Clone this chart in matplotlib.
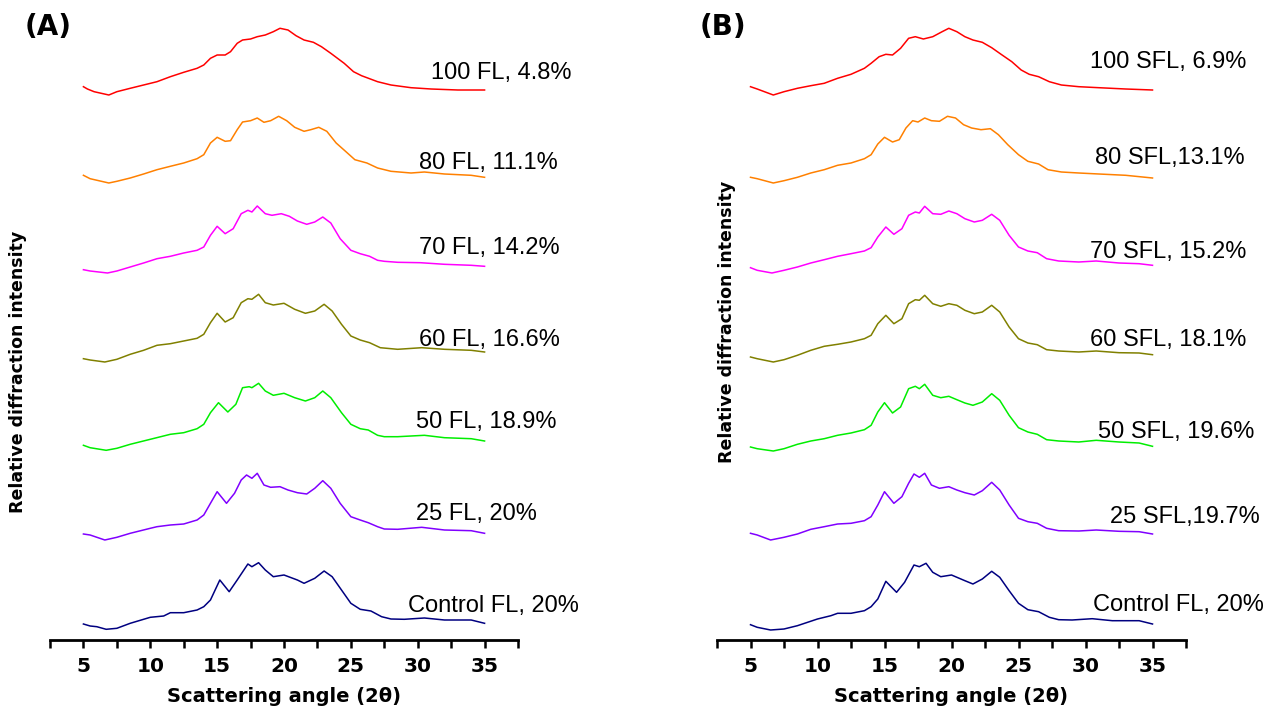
import numpy as np
import matplotlib
matplotlib.use("Agg")
import matplotlib.pyplot as plt
from matplotlib.ticker import MultipleLocator

# (2theta, relative intensity), panel A
fl_control = [(5, 6), (5.5, 4), (6, 3.3), (6.7, 0.7), (7.5, 1.7), (8.5, 6.7), (10, 12.7), (11, 14),
              (11.5, 17.3), (12.5, 17.3), (13.5, 20), (14, 23.3), (14.5, 30), (15.2, 50), (15.9, 38.3),
              (16.5, 50), (17.3, 66), (17.6, 63.3), (18.1, 67.3), (18.6, 60), (19.2, 53.3), (20, 55),
              (21, 50), (21.5, 46.7), (22.3, 51.7), (23, 59), (23.6, 53.3), (24.3, 40), (25, 26.7),
              (25.7, 20.7), (26.5, 19), (27.3, 13.3), (28, 11), (29, 10.7), (30.5, 12), (32, 10),
              (34, 10), (35, 6.7)]
fl_25 = [(5, 6), (5.5, 5), (6.6, 0), (7.5, 2.7), (8.5, 6.7), (10, 11.7), (10.5, 13.3), (11.5, 15),
         (12.5, 16), (13.5, 20), (14, 25), (14.5, 36.7), (15, 48.3), (15.7, 36.7), (16.3, 46.7),
         (16.8, 60), (17.2, 65), (17.6, 61.7), (18, 66.7), (18.5, 55), (19, 52.7), (19.7, 53.3),
         (20.3, 50), (21, 47.3), (21.7, 46), (22.3, 51.7), (22.9, 59.3), (23.5, 51.7), (24.2, 36.7),
         (25, 23.3), (25.7, 20), (26.3, 17.3), (27, 13.3), (27.5, 11), (28.5, 10.7), (30.3, 12.7),
         (32, 10), (34, 9.3), (35, 6.7)]
fl_50 = [(5, 5.7), (5.5, 3.3), (6.7, 0.7), (7.5, 2.7), (8.5, 6.7), (10, 11.7), (11.5, 16.7),
         (12.5, 18.3), (13.5, 22.3), (14, 26.7), (14.5, 38.3), (15.1, 48.3), (15.8, 39), (16.4, 46.7),
         (16.9, 63.3), (17.4, 64.3), (17.6, 63.3), (18.1, 67.7), (18.6, 60), (19.2, 55.7), (20, 57.7),
         (20.8, 53.3), (21.6, 50), (22.3, 53.3), (22.9, 60), (23.5, 53.3), (24.3, 38.3), (25, 26.7),
         (25.7, 22.3), (26.3, 21), (27, 15.7), (27.5, 14.3), (28.5, 14.3), (30.5, 15.7), (32, 13.3),
         (34, 12.3), (35, 10)]
fl_60 = [(5, 3.3), (5.5, 2), (6.6, 0), (7.5, 2.7), (8.5, 7.7), (9.5, 11.7), (10.5, 16.7), (11.5, 18.3),
         (12.5, 21), (13.5, 23.7), (14, 27.7), (14.5, 39.3), (15, 48.7), (15.6, 40), (16.2, 44.3),
         (16.8, 59.3), (17.3, 63.3), (17.6, 62.7), (18.1, 67.7), (18.6, 59.3), (19.2, 57), (20, 58.7),
         (20.8, 52.7), (21.6, 48.7), (22.3, 51), (23, 57.7), (23.6, 51), (24.3, 37.7), (25, 26),
         (25.7, 22), (26.4, 19.3), (27.2, 14.3), (28.5, 12.7), (30.3, 14.3), (32, 12.7), (34, 11.7),
         (35, 10)]
fl_70 = [(5, 3.3), (5.5, 2), (6.8, 0), (7.5, 2), (8.5, 6), (9.5, 10), (10.5, 14.3), (11.5, 16.7),
         (12.5, 20), (13.5, 22.7), (14, 26), (14.5, 37.7), (15, 46.7), (15.6, 39.3), (16.2, 44.3),
         (16.8, 59.3), (17.3, 62.7), (17.6, 61), (18, 67), (18.6, 59.3), (19.1, 57.7), (19.8, 59.3),
         (20.4, 56.7), (21, 52), (21.7, 48.7), (22.3, 51), (22.9, 56), (23.5, 50), (24.2, 34.3),
         (25, 22.7), (25.7, 19.3), (26.4, 16.7), (27, 12.7), (27.5, 11.7), (28.5, 10.7), (30.2, 10.3),
         (32, 8.7), (34, 7.7), (35, 6.7)]
fl_80 = [(5, 7.7), (5.5, 4.3), (6.9, 0), (7.5, 1.7), (8.5, 5), (9.5, 9), (10.5, 13.3), (11.5, 16.7),
         (12.5, 20), (13.5, 24.3), (14, 28.3), (14.5, 40), (15, 45.7), (15.6, 41.7), (16, 42.3),
         (16.5, 53.3), (16.9, 61), (17.5, 62.3), (18, 65), (18.5, 60.7), (19, 62.3), (19.6, 66.7),
         (20.2, 62.3), (20.8, 55.7), (21.5, 51.7), (22, 53.3), (22.6, 55.7), (23.2, 51.7), (23.9, 40),
         (24.6, 31.7), (25.3, 23.3), (26.2, 20), (27, 15), (28, 11.7), (29.5, 10), (30.5, 11),
         (32, 9), (34, 7.7), (35, 5.7)]
fl_100 = [(5, 8.3), (5.3, 6), (5.8, 3.3), (6.9, 0), (7.5, 3.3), (8.5, 6.7), (9.5, 10), (10.5, 13.3),
          (11.5, 18.3), (12.5, 22.7), (13.5, 26.7), (14, 30), (14.5, 36.7), (15, 40), (15.6, 40),
          (16, 43.3), (16.5, 51.7), (16.9, 55), (17.5, 56), (18, 58.3), (18.6, 60), (19.2, 63.3),
          (19.7, 66.7), (20.3, 65), (20.9, 59.3), (21.5, 55), (22.2, 52.7), (22.8, 48.3), (23.5, 41.7),
          (24.5, 31.7), (25.2, 23.3), (25.8, 19.3), (27, 13.3), (28, 10), (29.5, 7.3), (31, 6),
          (33, 5), (35, 5)]

# panel B
sfl_control = [(5, 5.3), (5.5, 2.7), (6.5, 0), (7.5, 1), (8.5, 4.3), (10, 11), (11, 14.3), (11.5, 16.7),
               (12.5, 16.7), (13.5, 19.3), (14, 23.3), (14.5, 31), (15.1, 48.7), (15.9, 37.7),
               (16.5, 47.7), (17.2, 65), (17.6, 63.3), (18.1, 66.7), (18.6, 57.7), (19.2, 53.3), (20, 55),
               (21, 49.3), (21.6, 46), (22.3, 51), (23, 58.7), (23.6, 52.7), (24.3, 39.3), (25, 26.7),
               (25.7, 20.3), (26.5, 18.3), (27.3, 12.7), (28, 10.3), (29, 10), (30.5, 11.3), (32, 9.3),
               (34, 9.3), (35, 6)]
sfl_25 = [(5, 6.7), (5.5, 5), (6.5, 0), (7.5, 2.7), (8.5, 6), (9.5, 10.7), (10.5, 13.3), (11.5, 16),
          (12.5, 16.7), (13.5, 19.3), (14, 23.3), (14.5, 35), (15, 48.3), (15.7, 36.7), (16.3, 43.3),
          (16.8, 56.7), (17.2, 66), (17.6, 62.7), (18, 66.7), (18.5, 55), (19.1, 51.7), (19.8, 53.3),
          (20.4, 50), (21, 47.3), (21.7, 45), (22.3, 49.3), (23, 57.7), (23.6, 50), (24.3, 35),
          (25, 21.7), (25.7, 18.3), (26.4, 16.7), (27.1, 11.7), (28, 9.3), (29.5, 9), (30.8, 10),
          (32.5, 8.7), (34, 8.3), (35, 6)]
sfl_50 = [(5, 4), (5.5, 2.3), (6.7, 0), (7.5, 2.3), (8.5, 6.7), (9.5, 10), (10.5, 12.3), (11.5, 15.7),
          (12.5, 18), (13.5, 21.3), (14, 25.7), (14.5, 39), (15, 48.3), (15.6, 38), (16.2, 44),
          (16.8, 62.3), (17.3, 64.7), (17.6, 62.3), (18, 66.7), (18.6, 55.7), (19.2, 53.3), (19.8, 54.7),
          (20.4, 51.3), (21, 48), (21.6, 45.7), (22.3, 49), (23, 57.3), (23.6, 50.7), (24.3, 35.7),
          (25, 23.3), (25.7, 19), (26.4, 16.7), (27.1, 11.3), (28, 10), (29.5, 9), (30.8, 10.7),
          (32.5, 9), (34, 8), (35, 4.7)]
sfl_60 = [(5, 5), (5.5, 3.3), (6.7, 0), (7.5, 2.3), (8.5, 6.7), (9.5, 11.7), (10.5, 15.7), (11.5, 17.7),
          (12.5, 20), (13.5, 23.3), (14, 26.7), (14.5, 38.3), (15.1, 46.7), (15.7, 38.3), (16.3, 43.3),
          (16.8, 58.3), (17.3, 62.3), (17.6, 61.7), (18, 66.7), (18.6, 58.3), (19.2, 55.7), (19.8, 58.3),
          (20.4, 56.7), (21, 51.7), (21.7, 48.3), (22.3, 50), (23, 56.7), (23.6, 50), (24.3, 35),
          (25, 23.3), (25.7, 19), (26.4, 17.3), (27.1, 12.3), (28, 11), (29.5, 10), (30.8, 11),
          (32.5, 9.3), (34, 9), (35, 7.3)]
sfl_70 = [(5, 5.3), (5.5, 2.7), (6.6, 0), (7.5, 2.7), (8.5, 6), (9.5, 10), (10.5, 13.3), (11.5, 16.7),
          (12.5, 19.3), (13.5, 22), (14, 25.3), (14.5, 36), (15.1, 46), (15.7, 38.7), (16.3, 44.3),
          (16.8, 57.7), (17.3, 61), (17.6, 60), (18, 66.7), (18.6, 59.3), (19.2, 58.7), (19.8, 62),
          (20.4, 59.3), (21, 54.3), (21.7, 51), (22.3, 52.7), (23, 58.7), (23.6, 52.7), (24.3, 37.7),
          (25, 26), (25.7, 22), (26.4, 20.3), (27.1, 14.3), (28, 12), (29.5, 11), (30.8, 12),
          (32.5, 10), (34, 9.3), (35, 7.7)]
sfl_80 = [(5, 5.7), (5.5, 4.3), (6.7, 0), (7.5, 2.3), (8.5, 5.7), (9.5, 10), (10.5, 13.3), (11.5, 17.7),
          (12.5, 20), (13.5, 24.3), (14, 28.3), (14.5, 39), (15, 45.7), (15.6, 41), (16.1, 43.3),
          (16.6, 55), (17.1, 62.3), (17.5, 61), (18, 65), (18.5, 62.3), (19.1, 61.7), (19.7, 66.7),
          (20.3, 65), (20.9, 58.3), (21.5, 55), (22.2, 53.3), (22.9, 54.3), (23.5, 48.3), (24.2, 38.3),
          (25, 28.3), (25.7, 21.7), (26.5, 19), (27.2, 13.3), (28.2, 11), (29.5, 10), (31, 9),
          (33, 7.7), (35, 5)]
sfl_100 = [(5, 8.3), (5.5, 6), (6.7, 0), (7.5, 3.3), (8.5, 6.7), (9.5, 9.3), (10.5, 11.7), (11.5, 16.7),
           (12.5, 20.7), (13.5, 26.7), (14, 31.7), (14.6, 38.3), (15.1, 40.7), (15.6, 40), (16.2, 46.7),
           (16.8, 56.7), (17.3, 58.3), (17.9, 56), (18.6, 58.3), (19.3, 63.3), (19.8, 66.7), (20.4, 63.3),
           (21, 58.3), (21.6, 55), (22.3, 52.7), (23, 47.3), (23.7, 40.7), (24.5, 33.3), (25.2, 25),
           (25.8, 20.7), (26.5, 18.3), (27.3, 13.3), (28.2, 10), (29.5, 8.3), (31, 7.3), (33, 6),
           (35, 5)]

series_a = [fl_control, fl_25, fl_50, fl_60, fl_70, fl_80, fl_100]
series_b = [sfl_control, sfl_25, sfl_50, sfl_60, sfl_70, sfl_80, sfl_100]
labels_a = ["Control FL, 20%", "25 FL, 20%", "50 FL, 18.9%", "60 FL, 16.6%",
            "70 FL, 14.2%", "80 FL, 11.1%", "100 FL, 4.8%"]
labels_b = ["Control FL, 20%", "25 SFL,19.7%", "50 SFL, 19.6%", "60 SFL, 18.1%",
            "70 SFL, 15.2%", "80 SFL,13.1%", "100 SFL, 6.9%"]
colors = ["#000080", "#8000ff", "#00ee00", "#808000", "#ff00ff", "#ff8000", "#ff0000"]
offsets = [10, 100, 189, 278, 367, 457, 545]

# label anchors (2theta, height) for each curve
label_pos_a = [(29.25, 34), (29.9, 126), (29.9, 218), (30.1, 300), (30.1, 392), (30.1, 477), (31.0, 567)]
label_pos_b = [(30.57, 35), (31.84, 123), (30.94, 208), (30.34, 300), (30.34, 388), (30.7, 482), (30.34, 578)]

W, H = 1275, 711
fig = plt.figure(figsize=(W / 100, H / 100), dpi=100)
ax_a = fig.add_axes([50 / W, 1 - 640 / H, 468 / W, 640 / H])
ax_b = fig.add_axes([717 / W, 1 - 640 / H, 469 / W, 640 / H])

for ax, series, labels, lpos in [(ax_a, series_a, labels_a, label_pos_a),
                                 (ax_b, series_b, labels_b, label_pos_b)]:
    for pts, col, off, lab, (tx, ty) in zip(series, colors, offsets, labels, lpos):
        x, y = np.array(pts).T
        ax.plot(x, y + off, color=col, lw=1.1)
        ax.text(tx, ty, lab, fontsize=17, family="Liberation Sans", va="center", ha="left")
    ax.set_xlim(2.5, 37.5)
    ax.set_ylim(0, 640)
    for s in ["left", "right", "top"]:
        ax.spines[s].set_visible(False)
    ax.spines["bottom"].set_linewidth(2)
    ax.set_yticks([])
    ax.xaxis.set_major_locator(MultipleLocator(5))
    ax.xaxis.set_minor_locator(MultipleLocator(2.5))
    ax.tick_params(axis="x", which="both", length=6, width=1.8, direction="out")
    ax.tick_params(axis="x", which="major", pad=6, labelsize=14.5)
    ax.set_xticks([5, 10, 15, 20, 25, 30, 35])
    for t in ax.get_xticklabels():
        t.set_fontweight("bold")
    ax.set_xlabel("Scattering angle (2θ)", fontsize=14, fontweight="bold", labelpad=8)

fig.text(18 / W, 1 - 372 / H, "Relative diffraction intensity", rotation=90,
         fontsize=12.5, fontweight="bold", ha="center", va="center")
fig.text(727 / W, 1 - 322 / H, "Relative diffraction intensity", rotation=90,
         fontsize=12.5, fontweight="bold", ha="center", va="center")
fig.text(25 / W, 1 - 27 / H, "(A)", fontsize=20, fontweight="bold", va="center", ha="left")
fig.text(700 / W, 1 - 27 / H, "(B)", fontsize=20, fontweight="bold", va="center", ha="left")

fig.savefig("out.png", dpi=100)
